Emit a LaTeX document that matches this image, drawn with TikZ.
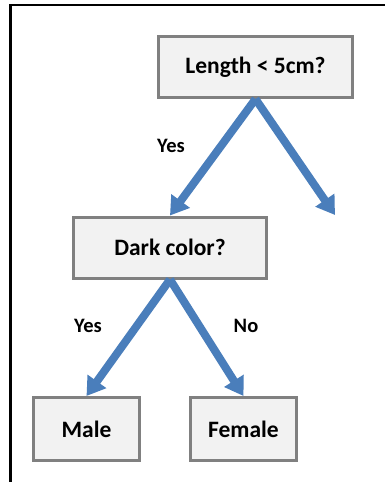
\documentclass[tikz,border=0pt]{standalone}
\usepackage{fontspec}
\setmainfont{Carlito}
\usetikzlibrary{arrows.meta}
\definecolor{boxgray}{HTML}{F2F2F2}
\definecolor{edgegray}{HTML}{808080}
\definecolor{arrowblue}{HTML}{4A7EBB}

\begin{document}
\begin{tikzpicture}[x=1pt,y=-1pt,
  box/.style={draw=edgegray,line width=3pt,fill=boxgray,minimum height=61pt,align=center,font=\bfseries\fontsize{23.5}{26}\selectfont},
  branch/.style={arrowblue,line width=8pt,-{Triangle[width=22pt,length=18pt]}},
  answer/.style={font=\bfseries\fontsize{20.5}{24}\selectfont}]
\useasboundingbox (0,0) rectangle (385,482);

% Frame (top and left edges only)
\draw[line width=2.5pt] (385,5) -- (10.5,5) -- (10.5,482);

% Root question
\node[box,minimum width=194pt] (root) at (255.5,67) {Length < 5cm?};

% Second question
\node[box,minimum width=193pt] (dark) at (170,247.5) {Dark color?};

% Leaves
\node[box,minimum width=106pt,minimum height=63pt] (male) at (86.5,429) {Male};
\node[box,minimum width=106pt,minimum height=63pt] (female) at (243.5,429) {Female};
\coordinate (noend) at (335,215);

% Branches
\draw[branch] (root.south) -- (dark.north);
\draw[branch] (root.south) -- (noend);
\draw[branch] (dark.south) -- (male.north);
\draw[branch] (dark.south) -- (female.north);

% Branch labels
\node[answer] (yes1) at (171,146) {Yes};
\node[answer] (yes2) at (88,326) {Yes};
\node[answer] (no2) at (246,326) {No};
\end{tikzpicture}
\end{document}
